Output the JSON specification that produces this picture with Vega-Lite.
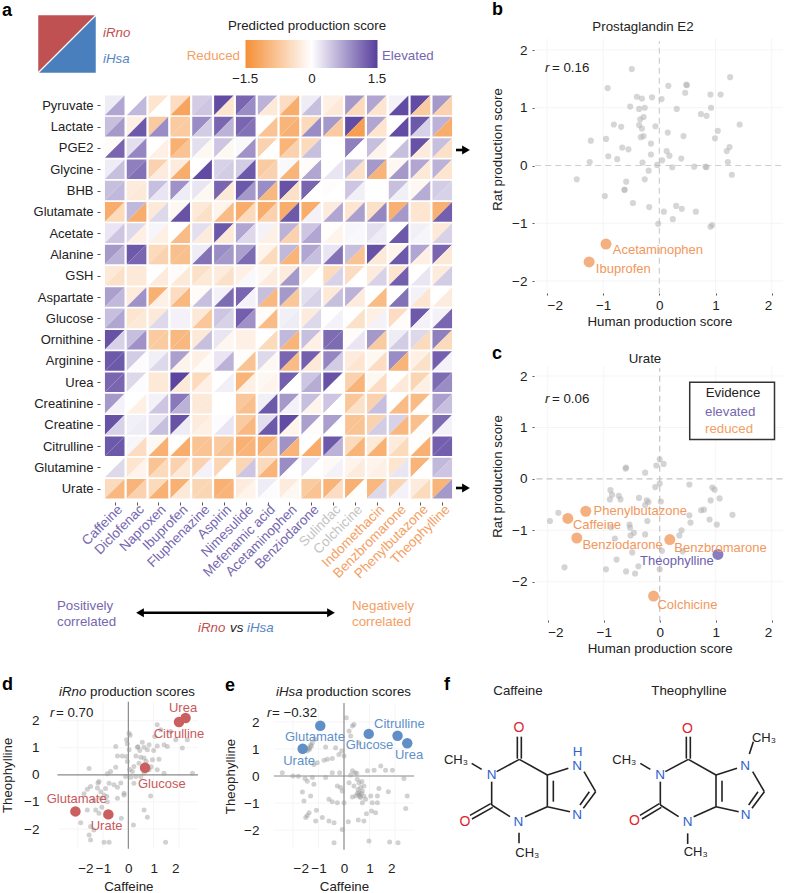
{"$schema":"https://vega.github.io/schema/vega-lite/v6.json","width":786,"height":893,"padding":0,"autosize":"none","background":"white",
"config":{"font":"Liberation Sans","view":{"stroke":null},"axis":{"labelFontSize":13.5,"titleFontSize":13.3,"labelColor":"#222","titleColor":"#222","titleFontWeight":"normal","domain":false,"grid":false,"tickColor":"#555","tickWidth":1,"labelOverlap":false},"text":{"fontSize":13,"baseline":"middle"}},
"resolve":{"scale":{"x":"independent","y":"independent"}},
"datasets":{"heat":[
{"m":"Pyruvate","d":"Caffeine","r":0.15,"h":0.7},{"m":"Pyruvate","d":"Diclofenac","r":0,"h":0.55},{"m":"Pyruvate","d":"Naproxen","r":-0.35,"h":0},{"m":"Pyruvate","d":"Ibuprofen","r":-0.45,"h":-1.2},{"m":"Pyruvate","d":"Fluphenazine","r":0.4,"h":0.45},{"m":"Pyruvate","d":"Aspirin","r":1.4,"h":-0.35},{"m":"Pyruvate","d":"Nimesulide","r":1.2,"h":0.9},{"m":"Pyruvate","d":"Mefenamic acid","r":0.6,"h":-0.3},{"m":"Pyruvate","d":"Acetaminophen","r":-0.45,"h":-1.1},{"m":"Pyruvate","d":"Benziodarone","r":0.15,"h":0.5},{"m":"Pyruvate","d":"Sulindac","r":-0.2,"h":-0.3},{"m":"Pyruvate","d":"Colchicine","r":0.8,"h":-0.5},{"m":"Pyruvate","d":"Indomethacin","r":0.7,"h":-0.35},{"m":"Pyruvate","d":"Benzbromarone","r":0.1,"h":1.4},{"m":"Pyruvate","d":"Phenylbutazone","r":1.4,"h":-0.7},{"m":"Pyruvate","d":"Theophylline","r":0.8,"h":-0.6},
{"m":"Lactate","d":"Caffeine","r":0.5,"h":0.8},{"m":"Lactate","d":"Diclofenac","r":-0.2,"h":1.3},{"m":"Lactate","d":"Naproxen","r":-0.7,"h":0.9},{"m":"Lactate","d":"Ibuprofen","r":-0.7,"h":-0.7},{"m":"Lactate","d":"Fluphenazine","r":0.9,"h":0.4},{"m":"Lactate","d":"Aspirin","r":1.2,"h":0.6},{"m":"Lactate","d":"Nimesulide","r":1.2,"h":1.1},{"m":"Lactate","d":"Mefenamic acid","r":0,"h":-0.8},{"m":"Lactate","d":"Acetaminophen","r":-1,"h":-1.05},{"m":"Lactate","d":"Benziodarone","r":-0.5,"h":0.9},{"m":"Lactate","d":"Sulindac","r":0.8,"h":-0.7},{"m":"Lactate","d":"Colchicine","r":1.4,"h":-1.3},{"m":"Lactate","d":"Indomethacin","r":0.7,"h":-0.35},{"m":"Lactate","d":"Benzbromarone","r":0,"h":1.4},{"m":"Lactate","d":"Phenylbutazone","r":1.3,"h":0.35},{"m":"Lactate","d":"Theophylline","r":0.6,"h":-1.1},
{"m":"PGE2","d":"Caffeine","r":-0.05,"h":1.2},{"m":"PGE2","d":"Diclofenac","r":0.25,"h":0.95},{"m":"PGE2","d":"Naproxen","r":0,"h":-0.2},{"m":"PGE2","d":"Ibuprofen","r":-1.05,"h":-0.8},{"m":"PGE2","d":"Fluphenazine","r":0.25,"h":-0.1},{"m":"PGE2","d":"Aspirin","r":0.45,"h":-0.1},{"m":"PGE2","d":"Nimesulide","r":0.05,"h":0.85},{"m":"PGE2","d":"Mefenamic acid","r":-0.6,"h":0},{"m":"PGE2","d":"Acetaminophen","r":-1,"h":-0.6},{"m":"PGE2","d":"Benziodarone","r":-0.5,"h":0.5},{"m":"PGE2","d":"Sulindac","r":0,"h":0},{"m":"PGE2","d":"Colchicine","r":1,"h":0},{"m":"PGE2","d":"Indomethacin","r":0.5,"h":-0.15},{"m":"PGE2","d":"Benzbromarone","r":0,"h":0.5},{"m":"PGE2","d":"Phenylbutazone","r":1.35,"h":-0.25},{"m":"PGE2","d":"Theophylline","r":0.5,"h":-0.4},
{"m":"Glycine","d":"Caffeine","r":0.15,"h":0.5},{"m":"Glycine","d":"Diclofenac","r":1,"h":1.1},{"m":"Glycine","d":"Naproxen","r":-0.6,"h":-0.25},{"m":"Glycine","d":"Ibuprofen","r":-0.25,"h":-1.1},{"m":"Glycine","d":"Fluphenazine","r":0,"h":1.4},{"m":"Glycine","d":"Aspirin","r":0.35,"h":0.4},{"m":"Glycine","d":"Nimesulide","r":0.4,"h":1.3},{"m":"Glycine","d":"Mefenamic acid","r":-0.7,"h":-0.6},{"m":"Glycine","d":"Acetaminophen","r":0.05,"h":-1},{"m":"Glycine","d":"Benziodarone","r":-0.05,"h":0.7},{"m":"Glycine","d":"Sulindac","r":0,"h":0.2},{"m":"Glycine","d":"Colchicine","r":0.5,"h":-0.4},{"m":"Glycine","d":"Indomethacin","r":0.8,"h":-1},{"m":"Glycine","d":"Benzbromarone","r":-0.1,"h":0.8},{"m":"Glycine","d":"Phenylbutazone","r":0.7,"h":-0.3},{"m":"Glycine","d":"Theophylline","r":0.6,"h":-0.35},
{"m":"BHB","d":"Caffeine","r":0.5,"h":0.55},{"m":"BHB","d":"Diclofenac","r":-0.25,"h":-0.3},{"m":"BHB","d":"Naproxen","r":0.5,"h":0.2},{"m":"BHB","d":"Ibuprofen","r":0.85,"h":0.15},{"m":"BHB","d":"Fluphenazine","r":0.2,"h":-0.1},{"m":"BHB","d":"Aspirin","r":1.2,"h":-0.3},{"m":"BHB","d":"Nimesulide","r":1.3,"h":0.8},{"m":"BHB","d":"Mefenamic acid","r":0.9,"h":-0.95},{"m":"BHB","d":"Acetaminophen","r":1.35,"h":-0.4},{"m":"BHB","d":"Benziodarone","r":1.2,"h":0},{"m":"BHB","d":"Sulindac","r":-0.03,"h":0},{"m":"BHB","d":"Colchicine","r":0.45,"h":0.12},{"m":"BHB","d":"Indomethacin","r":0,"h":0},{"m":"BHB","d":"Benzbromarone","r":0.5,"h":0.12},{"m":"BHB","d":"Phenylbutazone","r":-0.1,"h":0.65},{"m":"BHB","d":"Theophylline","r":0.4,"h":0.35},
{"m":"Glutamate","d":"Caffeine","r":-1.1,"h":-0.5},{"m":"Glutamate","d":"Diclofenac","r":0.55,"h":-1.1},{"m":"Glutamate","d":"Naproxen","r":-0.3,"h":0.3},{"m":"Glutamate","d":"Ibuprofen","r":-0.1,"h":1.35},{"m":"Glutamate","d":"Fluphenazine","r":-0.3,"h":-0.4},{"m":"Glutamate","d":"Aspirin","r":-0.15,"h":-0.9},{"m":"Glutamate","d":"Nimesulide","r":-1.1,"h":-0.5},{"m":"Glutamate","d":"Mefenamic acid","r":-1.1,"h":-0.6},{"m":"Glutamate","d":"Acetaminophen","r":-1.1,"h":1.3},{"m":"Glutamate","d":"Benziodarone","r":-1.1,"h":0.1},{"m":"Glutamate","d":"Sulindac","r":-0.25,"h":0.7},{"m":"Glutamate","d":"Colchicine","r":-0.35,"h":0.75},{"m":"Glutamate","d":"Indomethacin","r":-0.4,"h":0.95},{"m":"Glutamate","d":"Benzbromarone","r":-1.05,"h":0.8},{"m":"Glutamate","d":"Phenylbutazone","r":-0.35,"h":-0.35},{"m":"Glutamate","d":"Theophylline","r":-1.05,"h":1.25},
{"m":"Acetate","d":"Caffeine","r":0.2,"h":0.45},{"m":"Acetate","d":"Diclofenac","r":0.3,"h":-0.2},{"m":"Acetate","d":"Naproxen","r":0.08,"h":-0.2},{"m":"Acetate","d":"Ibuprofen","r":0,"h":-0.9},{"m":"Acetate","d":"Fluphenazine","r":0.25,"h":-0.25},{"m":"Acetate","d":"Aspirin","r":1.3,"h":-0.3},{"m":"Acetate","d":"Nimesulide","r":0.7,"h":0.3},{"m":"Acetate","d":"Mefenamic acid","r":0.1,"h":-0.2},{"m":"Acetate","d":"Acetaminophen","r":0.6,"h":-0.6},{"m":"Acetate","d":"Benziodarone","r":0.45,"h":0.7},{"m":"Acetate","d":"Sulindac","r":-0.02,"h":-0.15},{"m":"Acetate","d":"Colchicine","r":0.07,"h":0.05},{"m":"Acetate","d":"Indomethacin","r":0.25,"h":0.15},{"m":"Acetate","d":"Benzbromarone","r":0,"h":1.3},{"m":"Acetate","d":"Phenylbutazone","r":0.12,"h":0.08},{"m":"Acetate","d":"Theophylline","r":-0.3,"h":0.35},
{"m":"Alanine","d":"Caffeine","r":0.8,"h":0.6},{"m":"Alanine","d":"Diclofenac","r":1.3,"h":1.2},{"m":"Alanine","d":"Naproxen","r":-0.5,"h":-0.6},{"m":"Alanine","d":"Ibuprofen","r":-0.85,"h":-0.85},{"m":"Alanine","d":"Fluphenazine","r":0.15,"h":1.1},{"m":"Alanine","d":"Aspirin","r":0.9,"h":0.8},{"m":"Alanine","d":"Nimesulide","r":0.75,"h":1.15},{"m":"Alanine","d":"Mefenamic acid","r":-0.15,"h":-0.5},{"m":"Alanine","d":"Acetaminophen","r":0.55,"h":-1},{"m":"Alanine","d":"Benziodarone","r":0.7,"h":0.5},{"m":"Alanine","d":"Sulindac","r":0.2,"h":1.1},{"m":"Alanine","d":"Colchicine","r":0.5,"h":-0.8},{"m":"Alanine","d":"Indomethacin","r":1.35,"h":-0.3},{"m":"Alanine","d":"Benzbromarone","r":-0.15,"h":1.3},{"m":"Alanine","d":"Phenylbutazone","r":0.7,"h":-0.2},{"m":"Alanine","d":"Theophylline","r":1.2,"h":-0.3},
{"m":"GSH","d":"Caffeine","r":-0.3,"h":-0.4},{"m":"GSH","d":"Diclofenac","r":-0.3,"h":-0.3},{"m":"GSH","d":"Naproxen","r":0,"h":-0.25},{"m":"GSH","d":"Ibuprofen","r":-0.05,"h":-0.3},{"m":"GSH","d":"Fluphenazine","r":-0.4,"h":-0.3},{"m":"GSH","d":"Aspirin","r":-0.25,"h":-0.4},{"m":"GSH","d":"Nimesulide","r":-0.2,"h":0.05},{"m":"GSH","d":"Mefenamic acid","r":-0.1,"h":-0.25},{"m":"GSH","d":"Acetaminophen","r":-0.25,"h":0.8},{"m":"GSH","d":"Benziodarone","r":-0.2,"h":0},{"m":"GSH","d":"Sulindac","r":-0.5,"h":0.35},{"m":"GSH","d":"Colchicine","r":-0.45,"h":0},{"m":"GSH","d":"Indomethacin","r":-0.25,"h":0.35},{"m":"GSH","d":"Benzbromarone","r":-0.35,"h":1.25},{"m":"GSH","d":"Phenylbutazone","r":0,"h":0.2},{"m":"GSH","d":"Theophylline","r":-0.25,"h":0.4},
{"m":"Aspartate","d":"Caffeine","r":0.75,"h":0.55},{"m":"Aspartate","d":"Diclofenac","r":-0.25,"h":0.85},{"m":"Aspartate","d":"Naproxen","r":-1.05,"h":-0.2},{"m":"Aspartate","d":"Ibuprofen","r":-0.45,"h":-0.95},{"m":"Aspartate","d":"Fluphenazine","r":-0.05,"h":0.5},{"m":"Aspartate","d":"Aspirin","r":0.1,"h":1.15},{"m":"Aspartate","d":"Nimesulide","r":1.2,"h":0.1},{"m":"Aspartate","d":"Mefenamic acid","r":0.5,"h":-0.95},{"m":"Aspartate","d":"Acetaminophen","r":0.8,"h":-0.75},{"m":"Aspartate","d":"Benziodarone","r":0.25,"h":0.35},{"m":"Aspartate","d":"Sulindac","r":-0.3,"h":0.5},{"m":"Aspartate","d":"Colchicine","r":0.6,"h":-0.25},{"m":"Aspartate","d":"Indomethacin","r":0,"h":-0.9},{"m":"Aspartate","d":"Benzbromarone","r":0,"h":1.1},{"m":"Aspartate","d":"Phenylbutazone","r":0.1,"h":-0.35},{"m":"Aspartate","d":"Theophylline","r":0,"h":-0.25},
{"m":"Glucose","d":"Caffeine","r":0.5,"h":0.7},{"m":"Glucose","d":"Diclofenac","r":-0.35,"h":-0.3},{"m":"Glucose","d":"Naproxen","r":-0.3,"h":0.3},{"m":"Glucose","d":"Ibuprofen","r":0.1,"h":0.1},{"m":"Glucose","d":"Fluphenazine","r":-0.3,"h":-0.75},{"m":"Glucose","d":"Aspirin","r":0.45,"h":0.35},{"m":"Glucose","d":"Nimesulide","r":1.25,"h":0.85},{"m":"Glucose","d":"Mefenamic acid","r":-0.05,"h":-0.9},{"m":"Glucose","d":"Acetaminophen","r":0.12,"h":0.15},{"m":"Glucose","d":"Benziodarone","r":-0.25,"h":0.3},{"m":"Glucose","d":"Sulindac","r":0,"h":0.1},{"m":"Glucose","d":"Colchicine","r":0,"h":-0.4},{"m":"Glucose","d":"Indomethacin","r":-0.2,"h":0.1},{"m":"Glucose","d":"Benzbromarone","r":-0.45,"h":-0.05},{"m":"Glucose","d":"Phenylbutazone","r":1.3,"h":0.1},{"m":"Glucose","d":"Theophylline","r":0.1,"h":1.2},
{"m":"Ornithine","d":"Caffeine","r":1.35,"h":0.35},{"m":"Ornithine","d":"Diclofenac","r":0.5,"h":0.85},{"m":"Ornithine","d":"Naproxen","r":-0.7,"h":-0.7},{"m":"Ornithine","d":"Ibuprofen","r":-0.95,"h":-0.95},{"m":"Ornithine","d":"Fluphenazine","r":-0.3,"h":0.5},{"m":"Ornithine","d":"Aspirin","r":0.2,"h":-0.12},{"m":"Ornithine","d":"Nimesulide","r":-0.2,"h":-0.2},{"m":"Ornithine","d":"Mefenamic acid","r":0,"h":-0.5},{"m":"Ornithine","d":"Acetaminophen","r":0.55,"h":-1},{"m":"Ornithine","d":"Benziodarone","r":0.5,"h":-0.2},{"m":"Ornithine","d":"Sulindac","r":1.15,"h":1.15},{"m":"Ornithine","d":"Colchicine","r":-0.05,"h":0.2},{"m":"Ornithine","d":"Indomethacin","r":0.8,"h":-0.7},{"m":"Ornithine","d":"Benzbromarone","r":0.15,"h":0.4},{"m":"Ornithine","d":"Phenylbutazone","r":0.3,"h":-0.5},{"m":"Ornithine","d":"Theophylline","r":1,"h":-0.5},
{"m":"Arginine","d":"Caffeine","r":1.3,"h":1.3},{"m":"Arginine","d":"Diclofenac","r":0.4,"h":0.03},{"m":"Arginine","d":"Naproxen","r":0.12,"h":0.3},{"m":"Arginine","d":"Ibuprofen","r":0.75,"h":-0.15},{"m":"Arginine","d":"Fluphenazine","r":-0.2,"h":-0.05},{"m":"Arginine","d":"Aspirin","r":0.2,"h":0.6},{"m":"Arginine","d":"Nimesulide","r":-0.03,"h":-0.8},{"m":"Arginine","d":"Mefenamic acid","r":0.3,"h":-0.1},{"m":"Arginine","d":"Acetaminophen","r":1.2,"h":-0.9},{"m":"Arginine","d":"Benziodarone","r":1.25,"h":-0.3},{"m":"Arginine","d":"Sulindac","r":0.95,"h":0.4},{"m":"Arginine","d":"Colchicine","r":-0.25,"h":-0.35},{"m":"Arginine","d":"Indomethacin","r":-0.1,"h":-0.45},{"m":"Arginine","d":"Benzbromarone","r":0.9,"h":-1},{"m":"Arginine","d":"Phenylbutazone","r":-0.2,"h":-0.4},{"m":"Arginine","d":"Theophylline","r":1.25,"h":0.1},
{"m":"Urea","d":"Caffeine","r":1.2,"h":1.2},{"m":"Urea","d":"Diclofenac","r":0.3,"h":0.03},{"m":"Urea","d":"Naproxen","r":-0.3,"h":-0.3},{"m":"Urea","d":"Ibuprofen","r":1.45,"h":-0.3},{"m":"Urea","d":"Fluphenazine","r":-0.5,"h":-0.2},{"m":"Urea","d":"Aspirin","r":0,"h":0.12},{"m":"Urea","d":"Nimesulide","r":-1,"h":-0.2},{"m":"Urea","d":"Mefenamic acid","r":-0.1,"h":-0.15},{"m":"Urea","d":"Acetaminophen","r":1.25,"h":0},{"m":"Urea","d":"Benziodarone","r":0.45,"h":0.65},{"m":"Urea","d":"Sulindac","r":1.35,"h":0},{"m":"Urea","d":"Colchicine","r":-0.6,"h":-1},{"m":"Urea","d":"Indomethacin","r":-0.1,"h":-0.45},{"m":"Urea","d":"Benzbromarone","r":0,"h":-0.3},{"m":"Urea","d":"Phenylbutazone","r":-0.55,"h":-0.2},{"m":"Urea","d":"Theophylline","r":1.15,"h":0.9},
{"m":"Creatinine","d":"Caffeine","r":0.8,"h":0.1},{"m":"Creatinine","d":"Diclofenac","r":0,"h":-0.2},{"m":"Creatinine","d":"Naproxen","r":0.1,"h":0.45},{"m":"Creatinine","d":"Ibuprofen","r":1.05,"h":0.6},{"m":"Creatinine","d":"Fluphenazine","r":-0.3,"h":-0.3},{"m":"Creatinine","d":"Aspirin","r":0,"h":0},{"m":"Creatinine","d":"Nimesulide","r":-0.75,"h":-0.85},{"m":"Creatinine","d":"Mefenamic acid","r":0.12,"h":1.3},{"m":"Creatinine","d":"Acetaminophen","r":0.8,"h":0.1},{"m":"Creatinine","d":"Benziodarone","r":0.5,"h":-0.15},{"m":"Creatinine","d":"Sulindac","r":0.45,"h":0},{"m":"Creatinine","d":"Colchicine","r":-0.75,"h":-0.4},{"m":"Creatinine","d":"Indomethacin","r":-0.6,"h":0.5},{"m":"Creatinine","d":"Benzbromarone","r":0,"h":-0.9},{"m":"Creatinine","d":"Phenylbutazone","r":-0.9,"h":-0.02},{"m":"Creatinine","d":"Theophylline","r":0.75,"h":0.5},
{"m":"Creatine","d":"Caffeine","r":1.35,"h":0.35},{"m":"Creatine","d":"Diclofenac","r":0.12,"h":0.15},{"m":"Creatine","d":"Naproxen","r":0.2,"h":0.5},{"m":"Creatine","d":"Ibuprofen","r":1.35,"h":0.15},{"m":"Creatine","d":"Fluphenazine","r":-0.25,"h":-0.2},{"m":"Creatine","d":"Aspirin","r":0.03,"h":0.2},{"m":"Creatine","d":"Nimesulide","r":-0.7,"h":-0.95},{"m":"Creatine","d":"Mefenamic acid","r":0.25,"h":1.3},{"m":"Creatine","d":"Acetaminophen","r":1.4,"h":-0.15},{"m":"Creatine","d":"Benziodarone","r":0.75,"h":-0.03},{"m":"Creatine","d":"Sulindac","r":0.75,"h":0},{"m":"Creatine","d":"Colchicine","r":-0.8,"h":-0.8},{"m":"Creatine","d":"Indomethacin","r":-0.6,"h":0.4},{"m":"Creatine","d":"Benzbromarone","r":0.35,"h":-0.95},{"m":"Creatine","d":"Phenylbutazone","r":-0.85,"h":-0.03},{"m":"Creatine","d":"Theophylline","r":1.15,"h":0.1},
{"m":"Citrulline","d":"Caffeine","r":1.3,"h":1.3},{"m":"Citrulline","d":"Diclofenac","r":0.07,"h":-0.45},{"m":"Citrulline","d":"Naproxen","r":-0.1,"h":-1.05},{"m":"Citrulline","d":"Ibuprofen","r":0,"h":-1.1},{"m":"Citrulline","d":"Fluphenazine","r":-0.8,"h":-0.8},{"m":"Citrulline","d":"Aspirin","r":-0.7,"h":-0.8},{"m":"Citrulline","d":"Nimesulide","r":-1.05,"h":-1},{"m":"Citrulline","d":"Mefenamic acid","r":-1.05,"h":-0.8},{"m":"Citrulline","d":"Acetaminophen","r":0.85,"h":-1},{"m":"Citrulline","d":"Benziodarone","r":0,"h":-1.1},{"m":"Citrulline","d":"Sulindac","r":1.3,"h":0.6},{"m":"Citrulline","d":"Colchicine","r":-0.5,"h":-1},{"m":"Citrulline","d":"Indomethacin","r":-0.3,"h":-1.05},{"m":"Citrulline","d":"Benzbromarone","r":-0.25,"h":-0.5},{"m":"Citrulline","d":"Phenylbutazone","r":-0.02,"h":-1.05},{"m":"Citrulline","d":"Theophylline","r":1.25,"h":1.25},
{"m":"Glutamine","d":"Caffeine","r":0,"h":0.3},{"m":"Glutamine","d":"Diclofenac","r":-0.35,"h":-0.15},{"m":"Glutamine","d":"Naproxen","r":-0.8,"h":-0.5},{"m":"Glutamine","d":"Ibuprofen","r":-0.6,"h":-0.3},{"m":"Glutamine","d":"Fluphenazine","r":-0.6,"h":0.1},{"m":"Glutamine","d":"Aspirin","r":-0.55,"h":0},{"m":"Glutamine","d":"Nimesulide","r":-0.55,"h":0.45},{"m":"Glutamine","d":"Mefenamic acid","r":-0.5,"h":-1},{"m":"Glutamine","d":"Acetaminophen","r":0.9,"h":0},{"m":"Glutamine","d":"Benziodarone","r":0.2,"h":0},{"m":"Glutamine","d":"Sulindac","r":-0.08,"h":0.1},{"m":"Glutamine","d":"Colchicine","r":-0.15,"h":-0.25},{"m":"Glutamine","d":"Indomethacin","r":-0.15,"h":-0.2},{"m":"Glutamine","d":"Benzbromarone","r":-0.35,"h":0.2},{"m":"Glutamine","d":"Phenylbutazone","r":-1,"h":0},{"m":"Glutamine","d":"Theophylline","r":0.55,"h":0.45},
{"m":"Urate","d":"Caffeine","r":-0.5,"h":-0.95},{"m":"Urate","d":"Diclofenac","r":-1,"h":-0.6},{"m":"Urate","d":"Naproxen","r":-0.5,"h":-1.05},{"m":"Urate","d":"Ibuprofen","r":-1.05,"h":-0.3},{"m":"Urate","d":"Fluphenazine","r":-0.55,"h":-0.55},{"m":"Urate","d":"Aspirin","r":-1.05,"h":-1},{"m":"Urate","d":"Nimesulide","r":-0.25,"h":-0.15},{"m":"Urate","d":"Mefenamic acid","r":0.15,"h":0.03},{"m":"Urate","d":"Acetaminophen","r":-0.25,"h":-0.1},{"m":"Urate","d":"Benziodarone","r":-0.7,"h":-0.8},{"m":"Urate","d":"Sulindac","r":-1,"h":-0.45},{"m":"Urate","d":"Colchicine","r":-1.05,"h":-0.02},{"m":"Urate","d":"Indomethacin","r":-0.95,"h":0.3},{"m":"Urate","d":"Benzbromarone","r":-0.55,"h":0.1},{"m":"Urate","d":"Phenylbutazone","r":-0.25,"h":-0.5},{"m":"Urate","d":"Theophylline","r":-1,"h":0.8}
]},
"layer":[
{"data":{"name":"heat"},"mark":{"type":"point","filled":true,"opacity":1,"size":384,"shape":"M-1,-1L1,-1L-1,1Z"},"encoding":{
"x":{"field":"d","type":"nominal","scale":{"domain":["Caffeine","Diclofenac","Naproxen","Ibuprofen","Fluphenazine","Aspirin","Nimesulide","Mefenamic acid","Acetaminophen","Benziodarone","Sulindac","Colchicine","Indomethacin","Benzbromarone","Phenylbutazone","Theophylline"],"range":[103.8,453.2],"paddingInner":0,"paddingOuter":0},"axis":{"title":null,"orient":"bottom","offset":-391,"tickSize":3,"labelAngle":-45,"labelPadding":-3,"labelLimit":200,"labelFontSize":13.6,"labelColor":{"condition":[{"test":"indexof(['Sulindac','Colchicine'],datum.value)>=0","value":"#c4c4c4"},{"test":"indexof(['Indomethacin','Benzbromarone','Phenylbutazone','Theophylline'],datum.value)>=0","value":"#f4a064"}],"value":"#7567b0"}}},
"y":{"field":"m","type":"nominal","scale":{"domain":["Pyruvate","Lactate","PGE2","Glycine","BHB","Glutamate","Acetate","Alanine","GSH","Aspartate","Glucose","Ornithine","Arginine","Urea","Creatinine","Creatine","Citrulline","Glutamine","Urate"],"range":[94.7,499.45],"paddingInner":0,"paddingOuter":0},"axis":{"title":null,"orient":"left","offset":-100,"tickSize":3,"labelPadding":4,"labelFontSize":13}},
"color":{"field":"r","type":"quantitative","scale":{"domain":[-1.5,0,1.5],"range":["#f58f36","#ffffff","#573f9c"],"interpolate":"rgb","clamp":true},"legend":{"orient":"none","legendX":245.5,"legendY":40,"title":null,"direction":"horizontal","gradientLength":132,"gradientThickness":28,"gradientStrokeWidth":0,"values":[-1.5,0,1.5],"padding":0,"labelExpr":"''"}}}},
{"data":{"name":"heat"},"mark":{"type":"point","filled":true,"opacity":1,"size":384,"shape":"M1,-1L1,1L-1,1Z"},"encoding":{
"x":{"field":"d","type":"nominal","scale":{"domain":["Caffeine","Diclofenac","Naproxen","Ibuprofen","Fluphenazine","Aspirin","Nimesulide","Mefenamic acid","Acetaminophen","Benziodarone","Sulindac","Colchicine","Indomethacin","Benzbromarone","Phenylbutazone","Theophylline"],"range":[103.8,453.2],"paddingInner":0,"paddingOuter":0},"axis":null},
"y":{"field":"m","type":"nominal","scale":{"domain":["Pyruvate","Lactate","PGE2","Glycine","BHB","Glutamate","Acetate","Alanine","GSH","Aspartate","Glucose","Ornithine","Arginine","Urea","Creatinine","Creatine","Citrulline","Glutamine","Urate"],"range":[94.7,499.45],"paddingInner":0,"paddingOuter":0},"axis":null},
"color":{"field":"h","type":"quantitative","scale":{"domain":[-1.5,0,1.5],"range":["#f58f36","#ffffff","#573f9c"],"interpolate":"rgb","clamp":true},"legend":null}}},

{"data":{"values":[{"x":67,"y":44}]},"mark":{"type":"point","filled":true,"opacity":1,"size":3300,"color":"#bf5153","shape":"M-1,-1L0.97,-1L-1,0.97Z"},"encoding":{"x":{"field":"x","type":"quantitative","scale":{"domain":[0,786],"range":[0,786],"nice":false,"zero":false},"axis":null},"y":{"field":"y","type":"quantitative","scale":{"domain":[0,893],"range":[0,893],"nice":false,"zero":false},"axis":null}}},
{"data":{"values":[{"x":67,"y":44}]},"mark":{"type":"point","filled":true,"opacity":1,"size":3300,"color":"#4a7fbe","shape":"M1,-0.97L1,1L-0.97,1Z"},"encoding":{"x":{"field":"x","type":"quantitative","scale":{"domain":[0,786],"range":[0,786],"nice":false,"zero":false},"axis":null},"y":{"field":"y","type":"quantitative","scale":{"domain":[0,893],"range":[0,893],"nice":false,"zero":false},"axis":null}}},

{"data":{"values":[{"x":456,"x2":466,"y":150,"y2":150},{"x":456,"x2":466,"y":488,"y2":488},{"x":140,"x2":330,"y":612.7,"y2":612.7}]},"mark":{"type":"rule","strokeWidth":2.6,"color":"#000"},"encoding":{"x":{"field":"x","type":"quantitative","scale":{"domain":[0,786],"range":[0,786],"nice":false,"zero":false},"axis":null},"x2":{"field":"x2"},"y":{"field":"y","type":"quantitative","scale":{"domain":[0,893],"range":[0,893],"nice":false,"zero":false},"axis":null},"y2":{"field":"y2"}}},
{"data":{"values":[{"x":466,"y":150},{"x":466,"y":488},{"x":331,"y":612.7}]},"mark":{"type":"point","filled":true,"opacity":1,"size":80,"color":"#000","shape":"triangle-right"},"encoding":{"x":{"field":"x","type":"quantitative","scale":{"domain":[0,786],"range":[0,786],"nice":false,"zero":false},"axis":null},"y":{"field":"y","type":"quantitative","scale":{"domain":[0,893],"range":[0,893],"nice":false,"zero":false},"axis":null}}},
{"data":{"values":[{"x":140,"y":612.7}]},"mark":{"type":"point","filled":true,"opacity":1,"size":80,"color":"#000","shape":"triangle-left"},"encoding":{"x":{"field":"x","type":"quantitative","scale":{"domain":[0,786],"range":[0,786],"nice":false,"zero":false},"axis":null},"y":{"field":"y","type":"quantitative","scale":{"domain":[0,893],"range":[0,893],"nice":false,"zero":false},"axis":null}}},

{"data":{"values":[{"x":-2,"x2":-2,"y":-2.2,"y2":2.2},{"x":-1,"x2":-1,"y":-2.2,"y2":2.2},{"x":1,"x2":1,"y":-2.2,"y2":2.2},{"x":2,"x2":2,"y":-2.2,"y2":2.2},{"x":-2.2,"x2":2.2,"y":-2,"y2":-2},{"x":-2.2,"x2":2.2,"y":-1,"y2":-1},{"x":-2.2,"x2":2.2,"y":1,"y2":1},{"x":-2.2,"x2":2.2,"y":2,"y2":2}]},"mark":{"type":"rule","color":"#f5f5f5","strokeWidth":1},"encoding":{"x":{"field":"x","type":"quantitative","scale":{"domain":[-2,2],"range":[547,771.7],"nice":false,"zero":false},"axis":null},"x2":{"field":"x2"},"y":{"field":"y","type":"quantitative","scale":{"domain":[-2,2],"range":[281,50],"nice":false,"zero":false},"axis":null},"y2":{"field":"y2"}}},
{"data":{"values":[{"x":-2.21,"x2":2.24,"y":0,"y2":0},{"x":0,"x2":0,"y":-2.22,"y2":2.15}]},"mark":{"type":"rule","color":"#cfcfcf","strokeWidth":1.2,"strokeDash":[6,4]},"encoding":{"x":{"field":"x","type":"quantitative","scale":{"domain":[-2,2],"range":[547,771.7],"nice":false,"zero":false},"axis":null},"x2":{"field":"x2"},"y":{"field":"y","type":"quantitative","scale":{"domain":[-2,2],"range":[281,50],"nice":false,"zero":false},"axis":null},"y2":{"field":"y2"}}},
{"data":{"values":[{"h":-0.49,"r":1.67},{"h":-0.92,"r":1.34},{"h":1.26,"r":1.53},{"h":0.16,"r":1.38},{"h":0.48,"r":1.4},{"h":0.49,"r":1.39},{"h":0.46,"r":1.26},{"h":-0.4,"r":1.19},{"h":-0.31,"r":1.16},{"h":-0.13,"r":1.18},{"h":0.04,"r":1.15},{"h":0.91,"r":1.23},{"h":1.09,"r":1.23},{"h":-0.52,"r":1.02},{"h":-0.36,"r":0.98},{"h":-0.26,"r":1},{"h":0.31,"r":0.98},{"h":0.92,"r":1},{"h":0.74,"r":0.89},{"h":0.84,"r":0.86},{"h":-0.28,"r":0.84},{"h":-0.34,"r":0.8},{"h":-0.36,"r":0.7},{"h":-0.81,"r":0.71},{"h":-0.68,"r":0.67},{"h":-0.31,"r":0.64},{"h":-0.07,"r":0.68},{"h":1.43,"r":0.71},{"h":1.04,"r":0.6},{"h":0.15,"r":0.57},{"h":0.43,"r":0.51},{"h":-0.28,"r":0.51},{"h":-0.33,"r":0.49},{"h":0.99,"r":0.47},{"h":-1.22,"r":0.43},{"h":-0.95,"r":0.46},{"h":-0.15,"r":0.38},{"h":-0.66,"r":0.31},{"h":-0.55,"r":0.28},{"h":1.25,"r":0.32},{"h":1.2,"r":0.25},{"h":0.13,"r":0.25},{"h":0.18,"r":0.17},{"h":-0.15,"r":0.19},{"h":-0.91,"r":0.16},{"h":-0.75,"r":0.11},{"h":0.39,"r":0.12},{"h":-1.24,"r":0.06},{"h":-0.3,"r":0.05},{"h":0.05,"r":0.09},{"h":-0.04,"r":0.01},{"h":1.22,"r":0.06},{"h":0.62,"r":-0.02},{"h":0.23,"r":-0.03},{"h":0.82,"r":-0.02},{"h":0.84,"r":-0.03},{"h":1.29,"r":-0.16},{"h":-0.19,"r":-0.09},{"h":-0.26,"r":-0.24},{"h":-1.47,"r":-0.24},{"h":-0.59,"r":-0.28},{"h":-0.62,"r":-0.42},{"h":-0.62,"r":-0.42},{"h":-0.97,"r":-0.53},{"h":-0.47,"r":-0.65},{"h":-0.18,"r":-0.72},{"h":0.3,"r":-0.7},{"h":0.4,"r":-0.75},{"h":0.65,"r":-0.8},{"h":0.08,"r":-0.8},{"h":0.24,"r":-0.93},{"h":-0.02,"r":-1.01},{"h":0.94,"r":-1.03},{"h":0.91,"r":-1.06}]},"mark":{"type":"point","filled":true,"size":38,"color":"#b4b4b4","opacity":0.55},"encoding":{"x":{"field":"h","type":"quantitative","title":"Human production score","scale":{"domain":[-2,2],"range":[547,771.7],"nice":false,"zero":false},"axis":{"orient":"bottom","offset":-600,"tickSize":2,"labelPadding":3,"titlePadding":3,"values":[-2,-1,0,1,2],"format":"d"}},"y":{"field":"r","type":"quantitative","title":"Rat production score","scale":{"domain":[-2,2],"range":[281,50],"nice":false,"zero":false},"axis":{"orient":"left","offset":-534,"tickSize":2,"labelPadding":5,"titleX":-37,"titleY":149,"titleBaseline":"middle","values":[-2,-1,0,1,2],"format":"d"}}}},
{"data":{"values":[{"h":-0.95,"r":-1.36},{"h":-1.25,"r":-1.67}]},"mark":{"type":"point","filled":true,"size":121,"color":"#f5b081","opacity":1},"encoding":{"x":{"field":"h","type":"quantitative","scale":{"domain":[-2,2],"range":[547,771.7],"nice":false,"zero":false},"axis":null},"y":{"field":"r","type":"quantitative","scale":{"domain":[-2,2],"range":[281,50],"nice":false,"zero":false},"axis":null}}},
{"data":{"values":[{"h":-0.83,"r":-1.47,"t":"Acetaminophen"},{"h":-1.13,"r":-1.79,"t":"Ibuprofen"}]},"mark":{"type":"text","align":"left","fontSize":13,"color":"#f2975c"},"encoding":{"text":{"field":"t"},"x":{"field":"h","type":"quantitative","scale":{"domain":[-2,2],"range":[547,771.7],"nice":false,"zero":false},"axis":null},"y":{"field":"r","type":"quantitative","scale":{"domain":[-2,2],"range":[281,50],"nice":false,"zero":false},"axis":null}}},

{"data":{"values":[{"x":-2,"x2":-2,"y":-2.75,"y2":2.2},{"x":-1,"x2":-1,"y":-2.75,"y2":2.2},{"x":1,"x2":1,"y":-2.75,"y2":2.2},{"x":2,"x2":2,"y":-2.75,"y2":2.2},{"x":-2.2,"x2":2.2,"y":-2,"y2":-2},{"x":-2.2,"x2":2.2,"y":-1,"y2":-1},{"x":-2.2,"x2":2.2,"y":1,"y2":1},{"x":-2.2,"x2":2.2,"y":2,"y2":2}]},"mark":{"type":"rule","color":"#f5f5f5","strokeWidth":1},"encoding":{"x":{"field":"x","type":"quantitative","scale":{"domain":[-2,2],"range":[547.7,771.7],"nice":false,"zero":false},"axis":null},"x2":{"field":"x2"},"y":{"field":"y","type":"quantitative","scale":{"domain":[-2,2],"range":[581.7,376],"nice":false,"zero":false},"axis":null},"y2":{"field":"y2"}}},
{"data":{"values":[{"x":-2.2,"x2":2.24,"y":0,"y2":0},{"x":0,"x2":0,"y":-2.78,"y2":2.15}]},"mark":{"type":"rule","color":"#c4c4c4","strokeWidth":1.2,"strokeDash":[6,4]},"encoding":{"x":{"field":"x","type":"quantitative","scale":{"domain":[-2,2],"range":[547.7,771.7],"nice":false,"zero":false},"axis":null},"x2":{"field":"x2"},"y":{"field":"y","type":"quantitative","scale":{"domain":[-2,2],"range":[581.7,376],"nice":false,"zero":false},"axis":null},"y2":{"field":"y2"}}},
{"data":{"values":[{"h":-0.61,"r":0.2},{"h":-0.6,"r":0.22},{"h":-0.26,"r":0.12},{"h":-0.06,"r":0.26},{"h":0,"r":0.38},{"h":0.07,"r":0.29},{"h":-0.08,"r":-0.16},{"h":0,"r":-0.09},{"h":0.53,"r":-0.11},{"h":0.94,"r":-0.17},{"h":0.98,"r":-0.21},{"h":-0.88,"r":-0.22},{"h":-0.85,"r":-0.31},{"h":-0.73,"r":-0.33},{"h":-0.89,"r":-0.4},{"h":-0.7,"r":-0.4},{"h":-0.37,"r":-0.37},{"h":-0.23,"r":-0.42},{"h":-0.2,"r":-0.45},{"h":-0.26,"r":-0.51},{"h":0.02,"r":-0.44},{"h":0.91,"r":-0.42},{"h":1.07,"r":-0.38},{"h":0.74,"r":-0.61},{"h":0.79,"r":-0.6},{"h":-1.81,"r":-0.66},{"h":-1.96,"r":-0.82},{"h":0.53,"r":-0.71},{"h":1.3,"r":-0.7},{"h":-0.22,"r":-0.82},{"h":0.55,"r":-0.85},{"h":0.89,"r":-0.79},{"h":1.02,"r":-0.89},{"h":-0.54,"r":-0.89},{"h":-0.53,"r":-0.95},{"h":-0.87,"r":-0.94},{"h":-0.46,"r":-1.05},{"h":-0.52,"r":-1.1},{"h":-0.26,"r":-1.08},{"h":0.39,"r":-1},{"h":0.35,"r":-1.1},{"h":-0.8,"r":-1.16},{"h":-0.49,"r":-1.43},{"h":0.04,"r":-1.4},{"h":0.41,"r":-1.41},{"h":-0.77,"r":-1.57},{"h":-1.7,"r":-1.72},{"h":-0.96,"r":-1.76},{"h":-0.6,"r":-1.8},{"h":-0.44,"r":-1.84},{"h":-0.38,"r":-1.7},{"h":0,"r":-1.76}]},"mark":{"type":"point","filled":true,"size":38,"color":"#b0b0b0","opacity":0.55},"encoding":{"x":{"field":"h","type":"quantitative","title":"Human production score","scale":{"domain":[-2,2],"range":[547.7,771.7],"nice":false,"zero":false},"axis":{"orient":"bottom","offset":-273,"tickSize":2,"labelPadding":3,"titlePadding":3,"values":[-2,-1,0,1,2],"format":"d"}},"y":{"field":"r","type":"quantitative","title":"Rat production score","scale":{"domain":[-2,2],"range":[581.7,376],"nice":false,"zero":false},"axis":{"orient":"left","offset":-534,"tickSize":2,"labelPadding":5,"titleX":-37,"titleY":476,"titleBaseline":"middle","values":[-2,-1,0,1,2],"format":"d"}}}},
{"data":{"values":[{"h":-1.32,"r":-0.63},{"h":-1.64,"r":-0.77},{"h":-1.48,"r":-1.15},{"h":0.18,"r":-1.18},{"h":-0.11,"r":-2.28}]},"mark":{"type":"point","filled":true,"size":121,"color":"#f5b081","opacity":1},"encoding":{"x":{"field":"h","type":"quantitative","scale":{"domain":[-2,2],"range":[547.7,771.7],"nice":false,"zero":false},"axis":null},"y":{"field":"r","type":"quantitative","scale":{"domain":[-2,2],"range":[581.7,376],"nice":false,"zero":false},"axis":null}}},
{"data":{"values":[{"h":1.04,"r":-1.47}]},"mark":{"type":"point","filled":true,"size":121,"color":"#8a7dbd","opacity":1},"encoding":{"x":{"field":"h","type":"quantitative","scale":{"domain":[-2,2],"range":[547.7,771.7],"nice":false,"zero":false},"axis":null},"y":{"field":"r","type":"quantitative","scale":{"domain":[-2,2],"range":[581.7,376],"nice":false,"zero":false},"axis":null}}},
{"data":{"values":[{"h":-1.18,"r":-0.63,"t":"Phenylbutazone"},{"h":-1.55,"r":-0.89,"t":"Caffeine"},{"h":-1.38,"r":-1.28,"t":"Benziodarone"},{"h":0.26,"r":-1.34,"t":"Benzbromarone"},{"h":-0.04,"r":-2.46,"t":"Colchicine"}]},"mark":{"type":"text","align":"left","fontSize":13,"color":"#f2975c"},"encoding":{"text":{"field":"t"},"x":{"field":"h","type":"quantitative","scale":{"domain":[-2,2],"range":[547.7,771.7],"nice":false,"zero":false},"axis":null},"y":{"field":"r","type":"quantitative","scale":{"domain":[-2,2],"range":[581.7,376],"nice":false,"zero":false},"axis":null}}},
{"data":{"values":[{"h":-0.35,"r":-1.6,"t":"Theophylline"}]},"mark":{"type":"text","align":"left","fontSize":13,"color":"#6f60ad"},"encoding":{"text":{"field":"t"},"x":{"field":"h","type":"quantitative","scale":{"domain":[-2,2],"range":[547.7,771.7],"nice":false,"zero":false},"axis":null},"y":{"field":"r","type":"quantitative","scale":{"domain":[-2,2],"range":[581.7,376],"nice":false,"zero":false},"axis":null}}},
{"data":{"values":[{"x":0.536,"x2":2.05,"y":1.877,"y2":0.766}]},"mark":{"type":"rect","fill":"white","stroke":"#333","strokeWidth":1.5},"encoding":{"x":{"field":"x","type":"quantitative","scale":{"domain":[-2,2],"range":[547.7,771.7],"nice":false,"zero":false},"axis":null},"x2":{"field":"x2"},"y":{"field":"y","type":"quantitative","scale":{"domain":[-2,2],"range":[581.7,376],"nice":false,"zero":false},"axis":null},"y2":{"field":"y2"}}},

{"data":{"values":[{"x":-2,"x2":-2,"y":-2.7,"y2":2.7},{"x":-1,"x2":-1,"y":-2.7,"y2":2.7},{"x":1,"x2":1,"y":-2.7,"y2":2.7},{"x":2,"x2":2,"y":-2.7,"y2":2.7},{"x":-2.75,"x2":2.75,"y":-2,"y2":-2},{"x":-2.75,"x2":2.75,"y":-1,"y2":-1},{"x":-2.75,"x2":2.75,"y":1,"y2":1},{"x":-2.75,"x2":2.75,"y":2,"y2":2}]},"mark":{"type":"rule","color":"#f5f5f5","strokeWidth":1},"encoding":{"x":{"field":"x","type":"quantitative","scale":{"domain":[-2,2],"range":[77.7,179],"nice":false,"zero":false},"axis":null},"x2":{"field":"x2"},"y":{"field":"y","type":"quantitative","scale":{"domain":[-2,2],"range":[829,720.7],"nice":false,"zero":false},"axis":null},"y2":{"field":"y2"}}},
{"data":{"values":[{"x":-2.8,"x2":2.75,"y":0,"y2":0},{"x":0,"x2":0,"y":-2.73,"y2":2.7}]},"mark":{"type":"rule","color":"#8a8a8a","strokeWidth":1.2},"encoding":{"x":{"field":"x","type":"quantitative","scale":{"domain":[-2,2],"range":[77.7,179],"nice":false,"zero":false},"axis":null},"x2":{"field":"x2"},"y":{"field":"y","type":"quantitative","scale":{"domain":[-2,2],"range":[829,720.7],"nice":false,"zero":false},"axis":null},"y2":{"field":"y2"}}},
{"data":{"values":[{"c":-1.55,"t":0.23},{"c":-1.16,"t":-0.25},{"c":-0.83,"t":0.04},{"c":-0.7,"t":0.12},{"c":-0.5,"t":0.28},{"c":0.03,"t":1.54},{"c":0.07,"t":1.46},{"c":-0.07,"t":1.3},{"c":-0.04,"t":1.15},{"c":0.03,"t":0.93},{"c":-0.07,"t":0.68},{"c":-0.43,"t":0.7},{"c":-0.24,"t":0.7},{"c":0.36,"t":1.02},{"c":0.38,"t":1.04},{"c":0.55,"t":1.2},{"c":0.62,"t":1.02},{"c":0.75,"t":0.93},{"c":0.82,"t":1.11},{"c":1.14,"t":1.07},{"c":1.41,"t":1.11},{"c":1.54,"t":1.05},{"c":1.04,"t":1.42},{"c":1.14,"t":1.85},{"c":1.28,"t":1.67},{"c":1.67,"t":1.6},{"c":1.87,"t":1.3},{"c":2.13,"t":0.99},{"c":2.33,"t":1.3},{"c":2.53,"t":0.06},{"c":1.41,"t":0.06},{"c":1.14,"t":0.19},{"c":0.82,"t":0.19},{"c":0.49,"t":0.65},{"c":0.22,"t":0.31},{"c":0.16,"t":0.12},{"c":0.42,"t":0.43},{"c":0.62,"t":0.62},{"c":0.95,"t":0.56},{"c":1.21,"t":0.58},{"c":0.09,"t":-0.09},{"c":0.29,"t":-0.06},{"c":0.22,"t":-0.31},{"c":-0.17,"t":-0.68},{"c":-0.57,"t":-0.37},{"c":-0.43,"t":-0.46},{"c":-0.76,"t":-0.31},{"c":-1.22,"t":-0.49},{"c":-1.09,"t":-0.62},{"c":-0.96,"t":-0.74},{"c":-1.49,"t":-0.43},{"c":-1.62,"t":-0.53},{"c":-1.75,"t":-0.7},{"c":-1.36,"t":-0.93},{"c":-1.09,"t":-0.86},{"c":-0.83,"t":-0.99},{"c":-0.43,"t":-0.86},{"c":-0.17,"t":-0.74},{"c":-1.29,"t":-1.3},{"c":-1.62,"t":-1.3},{"c":-1.16,"t":-1.42},{"c":-1.49,"t":-1.91},{"c":-1.55,"t":-2.22},{"c":-1.36,"t":-2.04},{"c":-1.49,"t":-2.41},{"c":-0.96,"t":-2.49},{"c":-0.76,"t":-2.49},{"c":-1.88,"t":-1.77},{"c":-0.28,"t":-1.6},{"c":0.2,"t":-1.85},{"c":1.47,"t":-2.49},{"c":0.75,"t":-1.57},{"c":0.62,"t":-1.3},{"c":0.88,"t":-0.78},{"c":-0.11,"t":-0.06},{"c":0.62,"t":0.06},{"c":0.49,"t":-0.06},{"c":-0.04,"t":0.49},{"c":-0.5,"t":1.05},{"c":-1.2,"t":-0.3},{"c":-0.9,"t":-0.5},{"c":-0.3,"t":-0.3},{"c":0.3,"t":0.7},{"c":0.05,"t":0.2},{"c":-1.05,"t":-1.2},{"c":-0.85,"t":-0.8},{"c":1,"t":0.9},{"c":0.45,"t":0.9},{"c":0.9,"t":0.3},{"c":0.7,"t":0.5}]},"mark":{"type":"point","filled":true,"size":25,"color":"#999999","opacity":0.45},"encoding":{"x":{"field":"c","type":"quantitative","title":"Caffeine","scale":{"domain":[-2,2],"range":[77.7,179],"nice":false,"zero":false},"axis":{"orient":"bottom","offset":-35,"ticks":false,"labelPadding":3,"titlePadding":5,"values":[-2,-1,0,1,2],"format":"d"}},"y":{"field":"t","type":"quantitative","title":"Theophylline","scale":{"domain":[-2,2],"range":[829,720.7],"nice":false,"zero":false},"axis":{"orient":"left","offset":-42,"ticks":false,"labelPadding":3,"titleX":-35,"titleBaseline":"middle","values":[-2,-1,0,1,2],"format":"d"}}}},
{"data":{"values":[{"c":2.26,"t":2.1},{"c":2,"t":1.95},{"c":0.66,"t":0.26},{"c":-2.09,"t":-1.35},{"c":-0.79,"t":-1.46}]},"mark":{"type":"point","filled":true,"size":110,"color":"#c9605f","opacity":1},"encoding":{"x":{"field":"c","type":"quantitative","scale":{"domain":[-2,2],"range":[77.7,179],"nice":false,"zero":false},"axis":null},"y":{"field":"t","type":"quantitative","scale":{"domain":[-2,2],"range":[829,720.7],"nice":false,"zero":false},"axis":null}}},
{"data":{"values":[{"c":2.16,"y":2.47,"t":"Urea"},{"c":2,"y":1.51,"t":"Citrulline"},{"c":1.32,"y":-0.35,"t":"Glucose"},{"c":-2.04,"y":-0.9,"t":"Glutamate"},{"c":-0.86,"y":-1.89,"t":"Urate"}]},"mark":{"type":"text","align":"center","fontSize":13,"color":"#c8595b"},"encoding":{"text":{"field":"t"},"x":{"field":"c","type":"quantitative","scale":{"domain":[-2,2],"range":[77.7,179],"nice":false,"zero":false},"axis":null},"y":{"field":"y","type":"quantitative","scale":{"domain":[-2,2],"range":[829,720.7],"nice":false,"zero":false},"axis":null}}},

{"data":{"values":[{"x":-2,"x2":-2,"y":-2.7,"y2":2.7},{"x":-1,"x2":-1,"y":-2.7,"y2":2.7},{"x":1,"x2":1,"y":-2.7,"y2":2.7},{"x":2,"x2":2,"y":-2.7,"y2":2.7},{"x":-2.75,"x2":2.75,"y":-2,"y2":-2},{"x":-2.75,"x2":2.75,"y":-1,"y2":-1},{"x":-2.75,"x2":2.75,"y":1,"y2":1},{"x":-2.75,"x2":2.75,"y":2,"y2":2}]},"mark":{"type":"rule","color":"#f5f5f5","strokeWidth":1},"encoding":{"x":{"field":"x","type":"quantitative","scale":{"domain":[-2,2],"range":[293,395],"nice":false,"zero":false},"axis":null},"x2":{"field":"x2"},"y":{"field":"y","type":"quantitative","scale":{"domain":[-2,2],"range":[830,722],"nice":false,"zero":false},"axis":null},"y2":{"field":"y2"}}},
{"data":{"values":[{"x":-2.75,"x2":2.75,"y":0,"y2":0},{"x":0,"x2":0,"y":-2.73,"y2":2.7}]},"mark":{"type":"rule","color":"#8a8a8a","strokeWidth":1.2},"encoding":{"x":{"field":"x","type":"quantitative","scale":{"domain":[-2,2],"range":[293,395],"nice":false,"zero":false},"axis":null},"x2":{"field":"x2"},"y":{"field":"y","type":"quantitative","scale":{"domain":[-2,2],"range":[830,722],"nice":false,"zero":false},"axis":null},"y2":{"field":"y2"}}},
{"data":{"values":[{"c":-2.42,"t":0.12},{"c":-2,"t":0},{"c":-1.79,"t":-0.01},{"c":-1.53,"t":-0.09},{"c":-1.24,"t":-0.06},{"c":-1.44,"t":-0.19},{"c":-1.18,"t":-0.31},{"c":-1.63,"t":-0.59},{"c":-1.31,"t":-0.74},{"c":-1.57,"t":-0.93},{"c":-1.08,"t":-1.27},{"c":-1.37,"t":-1.36},{"c":-1.44,"t":-1.46},{"c":-1.5,"t":-1.54},{"c":-1.11,"t":-1.67},{"c":-0.85,"t":-1.54},{"c":-0.59,"t":-1.67},{"c":-0.39,"t":-1.73},{"c":-0.07,"t":-1.98},{"c":-0.39,"t":-2.47},{"c":0.98,"t":-2.41},{"c":1.79,"t":-2.44},{"c":2.12,"t":-2.47},{"c":0.17,"t":-1.69},{"c":0.56,"t":-1.63},{"c":0.78,"t":-1.67},{"c":1.24,"t":-1.36},{"c":1.08,"t":-1.3},{"c":0.88,"t":-1.4},{"c":2.42,"t":-1.2},{"c":2.48,"t":-0.74},{"c":2.35,"t":-0.09},{"c":1.74,"t":-0.58},{"c":1.31,"t":-0.74},{"c":1.37,"t":-0.46},{"c":1.44,"t":0.37},{"c":1.18,"t":0.21},{"c":1.63,"t":0.21},{"c":1.9,"t":0.21},{"c":0.92,"t":0.19},{"c":0.09,"t":2.16},{"c":0.33,"t":1.85},{"c":0.39,"t":1.91},{"c":0.2,"t":1.67},{"c":0.26,"t":1.48},{"c":0.59,"t":1.23},{"c":-0.09,"t":0.93},{"c":-0.2,"t":0.8},{"c":0,"t":0.74},{"c":-0.33,"t":1.05},{"c":-0.72,"t":1.07},{"c":-0.46,"t":0.65},{"c":-0.65,"t":0.62},{"c":-0.78,"t":0.58},{"c":-1.05,"t":0.49},{"c":-1.18,"t":0.43},{"c":-1.37,"t":1.05},{"c":-1.31,"t":1.15},{"c":-1.44,"t":0.93},{"c":-1.24,"t":1.23},{"c":-1.14,"t":1.36},{"c":-1.35,"t":0.99},{"c":-1.4,"t":1},{"c":-1.28,"t":1.1},{"c":0.33,"t":0.19},{"c":0.43,"t":0.12},{"c":0.26,"t":0.04},{"c":0.52,"t":-0.12},{"c":0.59,"t":-0.25},{"c":0.65,"t":-0.43},{"c":0.72,"t":-0.56},{"c":0.59,"t":-0.62},{"c":0.46,"t":-0.74},{"c":0.33,"t":-0.78},{"c":0.78,"t":-0.74},{"c":1.05,"t":-0.74},{"c":0.85,"t":-0.86},{"c":0.65,"t":-0.8},{"c":0.72,"t":-0.99},{"c":0.52,"t":-0.65},{"c":0.78,"t":-0.37},{"c":0.2,"t":-0.25},{"c":-0.13,"t":-0.43},{"c":-0.26,"t":-0.37},{"c":-0.07,"t":-0.56},{"c":-0.59,"t":-0.86},{"c":-0.46,"t":-0.95},{"c":-0.26,"t":-0.99},{"c":0,"t":-0.99},{"c":-0.72,"t":-0.06},{"c":-0.46,"t":0.12},{"c":-0.17,"t":0.12},{"c":0.39,"t":-0.37},{"c":1.11,"t":-0.99},{"c":1.31,"t":-0.99},{"c":0.6,"t":-0.7},{"c":0.68,"t":-0.65},{"c":0.55,"t":-0.5},{"c":0.5,"t":0.1},{"c":0.7,"t":-0.2},{"c":0.62,"t":-0.75}]},"mark":{"type":"point","filled":true,"size":25,"color":"#999999","opacity":0.45},"encoding":{"x":{"field":"c","type":"quantitative","title":"Caffeine","scale":{"domain":[-2,2],"range":[293,395],"nice":false,"zero":false},"axis":{"orient":"bottom","offset":-35,"ticks":false,"labelPadding":3,"titlePadding":5,"values":[-2,-1,0,1,2],"format":"d"}},"y":{"field":"t","type":"quantitative","title":"Theophylline","scale":{"domain":[-2,2],"range":[830,722],"nice":false,"zero":false},"axis":{"orient":"left","offset":-262,"ticks":false,"labelPadding":3,"titleX":-32,"titleBaseline":"middle","values":[-2,-1,0,1,2],"format":"d"}}}},
{"data":{"values":[{"c":-0.93,"t":1.86},{"c":-1.62,"t":1.01},{"c":0.97,"t":1.56},{"c":2.1,"t":1.49},{"c":2.48,"t":1.21}]},"mark":{"type":"point","filled":true,"size":110,"color":"#5f8fc6","opacity":1},"encoding":{"x":{"field":"c","type":"quantitative","scale":{"domain":[-2,2],"range":[293,395],"nice":false,"zero":false},"axis":null},"y":{"field":"t","type":"quantitative","scale":{"domain":[-2,2],"range":[830,722],"nice":false,"zero":false},"axis":null}}},
{"data":{"values":[{"c":-1.14,"y":1.46,"t":"Glutamate"},{"c":-1.76,"y":0.56,"t":"Urate"},{"c":1,"y":1.15,"t":"Glucose"},{"c":2.17,"y":1.91,"t":"Citrulline"},{"c":2.55,"y":0.77,"t":"Urea"}]},"mark":{"type":"text","align":"center","fontSize":13,"color":"#5f90ca"},"encoding":{"text":{"field":"t"},"x":{"field":"c","type":"quantitative","scale":{"domain":[-2,2],"range":[293,395],"nice":false,"zero":false},"axis":null},"y":{"field":"y","type":"quantitative","scale":{"domain":[-2,2],"range":[830,722],"nice":false,"zero":false},"axis":null}}},

{"data":{"values":[{"x":268,"x2":200,"y":268,"y2":305},{"x":185,"x2":185,"y":335,"y2":405},{"x":185,"x2":240,"y":405,"y2":440},{"x":285,"x2":352,"y":440,"y2":410},{"x":352,"x2":352,"y":410,"y2":315},{"x":370,"x2":370,"y":395,"y2":332},{"x":352,"x2":268,"y":315,"y2":268},{"x":352,"x2":415,"y":315,"y2":295},{"x":462,"x2":497,"y":305,"y2":365},{"x":497,"x2":460,"y":365,"y2":415},{"x":478,"x2":450,"y":365,"y2":405},{"x":420,"x2":352,"y":425,"y2":410},{"x":125,"x2":155,"y":280,"y2":298},{"x":267,"x2":267,"y":488,"y2":520},{"x":262,"x2":262,"y":266,"y2":200},{"x":274,"x2":274,"y":266,"y2":200},{"x":182,"x2":120,"y":401,"y2":436},{"x":188,"x2":126,"y":412,"y2":447},{"x":775,"x2":706,"y":268,"y2":305},{"x":691,"x2":691,"y":335,"y2":405},{"x":691,"x2":746,"y":405,"y2":440},{"x":791,"x2":858,"y":440,"y2":410},{"x":858,"x2":858,"y":410,"y2":315},{"x":876,"x2":876,"y":395,"y2":332},{"x":858,"x2":775,"y":315,"y2":268},{"x":858,"x2":921,"y":315,"y2":295},{"x":968,"x2":1003,"y":305,"y2":365},{"x":1003,"x2":966,"y":365,"y2":415},{"x":984,"x2":956,"y":365,"y2":405},{"x":926,"x2":858,"y":425,"y2":410},{"x":631,"x2":661,"y":280,"y2":298},{"x":773,"x2":773,"y":490,"y2":522},{"x":958,"x2":970,"y":252,"y2":215},{"x":769,"x2":769,"y":266,"y2":200},{"x":781,"x2":781,"y":266,"y2":200},{"x":688,"x2":630,"y":401,"y2":436},{"x":694,"x2":636,"y":412,"y2":447}]},"mark":{"type":"rule","color":"#222","strokeWidth":1.6},"encoding":{"x":{"field":"x","type":"quantitative","scale":{"domain":[0,1068],"range":[430,786],"nice":false,"zero":false},"axis":null},"x2":{"field":"x2"},"y":{"field":"y","type":"quantitative","scale":{"domain":[0,669],"range":[670,893],"nice":false,"zero":false},"axis":null},"y2":{"field":"y2"}}},
{"data":{"values":[{"x":185,"y":315,"t":"N"},{"x":265,"y":457,"t":"N"},{"x":441,"y":288,"t":"N"},{"x":443,"y":245,"t":"H"},{"x":441,"y":435,"t":"N"},{"x":690,"y":315,"t":"N"},{"x":773,"y":457,"t":"N"},{"x":945,"y":288,"t":"N"},{"x":947,"y":435,"t":"N"}]},"mark":{"type":"text","align":"center","fontSize":13.5,"color":"#2f5fd0"},"encoding":{"text":{"field":"t"},"x":{"field":"x","type":"quantitative","scale":{"domain":[0,1068],"range":[430,786],"nice":false,"zero":false},"axis":null},"y":{"field":"y","type":"quantitative","scale":{"domain":[0,669],"range":[670,893],"nice":false,"zero":false},"axis":null}}},
{"data":{"values":[{"x":267,"y":173,"t":"O"},{"x":105,"y":455,"t":"O"},{"x":772,"y":178,"t":"O"},{"x":613,"y":452,"t":"O"}]},"mark":{"type":"text","align":"center","fontSize":14,"color":"#e0242c"},"encoding":{"text":{"field":"t"},"x":{"field":"x","type":"quantitative","scale":{"domain":[0,1068],"range":[430,786],"nice":false,"zero":false},"axis":null},"y":{"field":"y","type":"quantitative","scale":{"domain":[0,669],"range":[670,893],"nice":false,"zero":false},"axis":null}}},
{"data":{"values":[{"x":78,"y":270,"t":"CH₃"},{"x":292,"y":548,"t":"CH₃"},{"x":583,"y":270,"t":"CH₃"},{"x":797,"y":545,"t":"CH₃"},{"x":1002,"y":203,"t":"CH₃"}]},"mark":{"type":"text","align":"center","fontSize":13,"color":"#222"},"encoding":{"text":{"field":"t"},"x":{"field":"x","type":"quantitative","scale":{"domain":[0,1068],"range":[430,786],"nice":false,"zero":false},"axis":null},"y":{"field":"y","type":"quantitative","scale":{"domain":[0,669],"range":[670,893],"nice":false,"zero":false},"axis":null}}},

{"data":{"values":[{"x":2,"y":11,"t":"a"},{"x":492,"y":10,"t":"b"},{"x":492,"y":354,"t":"c"},{"x":2,"y":685,"t":"d"},{"x":225,"y":686,"t":"e"},{"x":444,"y":685,"t":"f"}]},"mark":{"type":"text","align":"left","fontSize":18,"fontWeight":"bold","color":"#000"},"encoding":{"text":{"field":"t"},"x":{"field":"x","type":"quantitative","scale":{"domain":[0,786],"range":[0,786],"nice":false,"zero":false},"axis":null},"y":{"field":"y","type":"quantitative","scale":{"domain":[0,893],"range":[0,893],"nice":false,"zero":false},"axis":null}}},
{"data":{"values":[{"x":307,"y":26,"t":"Predicted production score"},{"x":643,"y":27,"t":"Prostaglandin E2"},{"x":645,"y":359,"t":"Urate"},{"x":733,"y":393,"t":"Evidence"},{"x":518,"y":691,"t":"Caffeine"},{"x":689,"y":691,"t":"Theophylline"},{"x":245,"y":79,"t":"−1.5"},{"x":312,"y":79,"t":"0"},{"x":377,"y":79,"t":"1.5"}]},"mark":{"type":"text","align":"center","fontSize":13.3,"color":"#222"},"encoding":{"text":{"field":"t"},"x":{"field":"x","type":"quantitative","scale":{"domain":[0,786],"range":[0,786],"nice":false,"zero":false},"axis":null},"y":{"field":"y","type":"quantitative","scale":{"domain":[0,893],"range":[0,893],"nice":false,"zero":false},"axis":null}}},
{"data":{"values":[{"x":552,"y":68,"t":"= 0.16"},{"x":552,"y":399,"t":"= 0.06"},{"x":90,"y":692,"t":"production scores"},{"x":56,"y":713,"t":"= 0.70"},{"x":306,"y":692,"t":"production scores"},{"x":272,"y":713,"t":"= −0.32"}]},"mark":{"type":"text","align":"left","fontSize":13.3,"color":"#222"},"encoding":{"text":{"field":"t"},"x":{"field":"x","type":"quantitative","scale":{"domain":[0,786],"range":[0,786],"nice":false,"zero":false},"axis":null},"y":{"field":"y","type":"quantitative","scale":{"domain":[0,893],"range":[0,893],"nice":false,"zero":false},"axis":null}}},
{"data":{"values":[{"x":545,"y":68,"t":"r"},{"x":545,"y":399,"t":"r"},{"x":50,"y":713,"t":"r"},{"x":267,"y":713,"t":"r"},{"x":230,"y":628,"t":"vs"}]},"mark":{"type":"text","align":"left","fontSize":13.3,"fontStyle":"italic","color":"#222"},"encoding":{"text":{"field":"t"},"x":{"field":"x","type":"quantitative","scale":{"domain":[0,786],"range":[0,786],"nice":false,"zero":false},"axis":null},"y":{"field":"y","type":"quantitative","scale":{"domain":[0,893],"range":[0,893],"nice":false,"zero":false},"axis":null}}},
{"data":{"values":[{"x":59,"y":692,"t":"iRno"},{"x":276,"y":692,"t":"iHsa"}]},"mark":{"type":"text","align":"left","fontSize":13.3,"fontStyle":"italic","color":"#222"},"encoding":{"text":{"field":"t"},"x":{"field":"x","type":"quantitative","scale":{"domain":[0,786],"range":[0,786],"nice":false,"zero":false},"axis":null},"y":{"field":"y","type":"quantitative","scale":{"domain":[0,893],"range":[0,893],"nice":false,"zero":false},"axis":null}}},
{"data":{"values":[{"x":103,"y":33,"t":"iRno"},{"x":198,"y":628,"t":"iRno"}]},"mark":{"type":"text","align":"left","fontSize":13.3,"fontStyle":"italic","color":"#c0504f"},"encoding":{"text":{"field":"t"},"x":{"field":"x","type":"quantitative","scale":{"domain":[0,786],"range":[0,786],"nice":false,"zero":false},"axis":null},"y":{"field":"y","type":"quantitative","scale":{"domain":[0,893],"range":[0,893],"nice":false,"zero":false},"axis":null}}},
{"data":{"values":[{"x":103,"y":59,"t":"iHsa"},{"x":247,"y":628,"t":"iHsa"}]},"mark":{"type":"text","align":"left","fontSize":13.3,"fontStyle":"italic","color":"#5485c4"},"encoding":{"text":{"field":"t"},"x":{"field":"x","type":"quantitative","scale":{"domain":[0,786],"range":[0,786],"nice":false,"zero":false},"axis":null},"y":{"field":"y","type":"quantitative","scale":{"domain":[0,893],"range":[0,893],"nice":false,"zero":false},"axis":null}}},
{"data":{"values":[{"x":352,"y":606,"t":"Negatively"},{"x":352,"y":622,"t":"correlated"},{"x":705,"y":429,"t":"reduced"}]},"mark":{"type":"text","align":"left","fontSize":13.3,"color":"#f4a064"},"encoding":{"text":{"field":"t"},"x":{"field":"x","type":"quantitative","scale":{"domain":[0,786],"range":[0,786],"nice":false,"zero":false},"axis":null},"y":{"field":"y","type":"quantitative","scale":{"domain":[0,893],"range":[0,893],"nice":false,"zero":false},"axis":null}}},
{"data":{"values":[{"x":240,"y":56,"t":"Reduced"}]},"mark":{"type":"text","align":"right","fontSize":13.3,"color":"#f4a064"},"encoding":{"text":{"field":"t"},"x":{"field":"x","type":"quantitative","scale":{"domain":[0,786],"range":[0,786],"nice":false,"zero":false},"axis":null},"y":{"field":"y","type":"quantitative","scale":{"domain":[0,893],"range":[0,893],"nice":false,"zero":false},"axis":null}}},
{"data":{"values":[{"x":382,"y":56,"t":"Elevated"},{"x":57,"y":606,"t":"Positively"},{"x":57,"y":622,"t":"correlated"},{"x":705,"y":412,"t":"elevated"}]},"mark":{"type":"text","align":"left","fontSize":13.3,"color":"#7567b0"},"encoding":{"text":{"field":"t"},"x":{"field":"x","type":"quantitative","scale":{"domain":[0,786],"range":[0,786],"nice":false,"zero":false},"axis":null},"y":{"field":"y","type":"quantitative","scale":{"domain":[0,893],"range":[0,893],"nice":false,"zero":false},"axis":null}}}
]}
